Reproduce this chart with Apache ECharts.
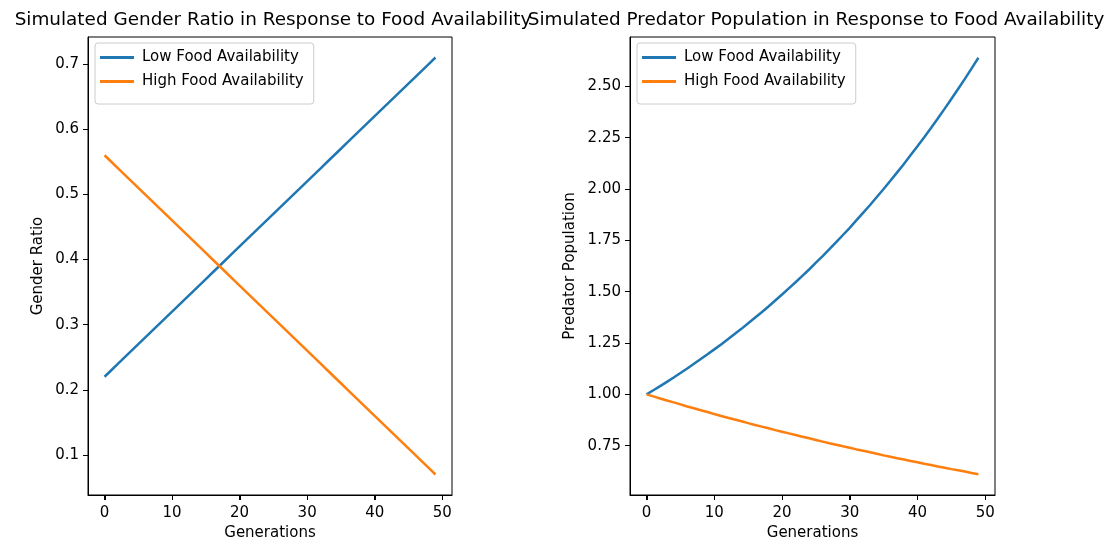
<!DOCTYPE html>
<html>
<head>
<meta charset="utf-8">
<script src="https://cdn.jsdelivr.net/npm/echarts@6/dist/echarts.min.js"></script>
<style>
  html, body { margin: 0; padding: 0; background: #fff; }
  #chart { width: 1107px; height: 542px; }
</style>
</head>
<body>
<div id="chart"></div>
<script>
// generations 0..49
var generations = [0,1,2,3,4,5,6,7,8,9,10,11,12,13,14,15,16,17,18,19,20,21,22,23,24,25,26,27,28,29,30,31,32,33,34,35,36,37,38,39,40,41,42,43,44,45,46,47,48,49];

// gender ratio
var ratioLow = [0.22,0.23,0.24,0.25,0.26,0.27,0.28,0.29,0.30,0.31,0.32,0.33,0.34,0.35,0.36,0.37,0.38,0.39,0.40,0.41,0.42,0.43,0.44,0.45,0.46,0.47,0.48,0.49,0.50,0.51,0.52,0.53,0.54,0.55,0.56,0.57,0.58,0.59,0.60,0.61,0.62,0.63,0.64,0.65,0.66,0.67,0.68,0.69,0.70,0.71];
var ratioHigh = [0.56,0.55,0.54,0.53,0.52,0.51,0.50,0.49,0.48,0.47,0.46,0.45,0.44,0.43,0.42,0.41,0.40,0.39,0.38,0.37,0.36,0.35,0.34,0.33,0.32,0.31,0.30,0.29,0.28,0.27,0.26,0.25,0.24,0.23,0.22,0.21,0.20,0.19,0.18,0.17,0.16,0.15,0.14,0.13,0.12,0.11,0.10,0.09,0.08,0.07];

// predator population
var predLow = [1.000,1.020,1.040,1.061,1.082,1.104,1.126,1.149,1.172,1.195,1.219,1.243,1.268,1.294,1.319,1.346,1.373,1.400,1.428,1.457,1.486,1.516,1.546,1.577,1.608,1.641,1.673,1.707,1.741,1.776,1.811,1.848,1.885,1.922,1.961,2.000,2.040,2.081,2.122,2.165,2.208,2.252,2.297,2.343,2.390,2.438,2.487,2.536,2.587,2.639];
var predHigh = [1.000,0.990,0.980,0.970,0.961,0.951,0.941,0.932,0.923,0.914,0.904,0.895,0.886,0.878,0.869,0.860,0.851,0.843,0.835,0.826,0.818,0.810,0.802,0.794,0.786,0.778,0.770,0.762,0.755,0.747,0.740,0.732,0.725,0.718,0.711,0.703,0.696,0.689,0.683,0.676,0.669,0.662,0.656,0.649,0.643,0.636,0.630,0.624,0.617,0.611];

var xTicks = [0, 10, 20, 30, 40, 50];
var ratioTicks = [0.1, 0.2, 0.3, 0.4, 0.5, 0.6, 0.7];
var predTicks = [0.75, 1.00, 1.25, 1.50, 1.75, 2.00, 2.25, 2.50];

var lowName = 'Low Food Availability';
var highName = 'High Food Availability';
var blue = '#1f77b4';
var orange = '#ff7f0e';
var font = 'DejaVu Sans';

var yMins = [0.0385, 0.510];
var yMaxs = [0.7415, 2.740];

function pairs(ys) {
    return generations.map(function (g, i) { return [g, ys[i]]; });
}

function xAx(idx) {
    return {
        type: 'value', gridIndex: idx, position: 'bottom',
        min: -2.45, max: 51.45,
        name: 'Generations', nameLocation: 'middle', nameGap: 30,
        nameTextStyle: { color: '#000', fontFamily: font, fontSize: 15 },
        splitLine: { show: false },
        axisLine: { show: true, onZero: false, lineStyle: { color: '#000', width: 1 } },
        axisTick: { show: true, length: 5, customValues: xTicks, lineStyle: { color: '#000', width: 1 } },
        axisLabel: { customValues: xTicks, margin: 11, color: '#000', fontFamily: font, fontSize: 15 }
    };
}

function yAx(idx, name, ticks, digits, gap) {
    return {
        type: 'value', gridIndex: idx,
        min: yMins[idx], max: yMaxs[idx],
        name: name, nameLocation: 'middle', nameGap: gap,
        nameTextStyle: { color: '#000', fontFamily: font, fontSize: 15 },
        splitLine: { show: false },
        axisLine: { show: true, onZero: false, lineStyle: { color: '#000', width: 1 } },
        axisTick: { show: true, length: 5, inside: false, customValues: ticks, lineStyle: { color: '#000', width: 1 } },
        axisLabel: {
            customValues: ticks, margin: 9, color: '#000', fontFamily: font, fontSize: 15,
            formatter: function (v) { return v.toFixed(digits); }
        }
    };
}

function lineSeries(name, idx, ys, color) {
    return {
        name: name, type: 'line', xAxisIndex: idx, yAxisIndex: idx,
        data: pairs(ys), showSymbol: false, symbol: 'none',
        lineStyle: { color: color, width: 2.5 }, itemStyle: { color: color },
        animation: false, silent: true
    };
}

function legendAt(left) {
    return {
        left: left, top: 43, orient: 'vertical',
        data: [lowName, highName],
        icon: 'rect', itemWidth: 34, itemHeight: 3, itemGap: 9,
        backgroundColor: '#fff', borderColor: '#cccccc', borderWidth: 1, borderRadius: 3,
        padding: [7, 10, 15, 5],
        textStyle: { color: '#000', fontFamily: font, fontSize: 15, padding: [0, 0, 0, 3] },
        selectedMode: false
    };
}

var myChart = echarts.init(document.getElementById('chart'));
var option = {
    backgroundColor: '#fff',
    animation: false,
    title: [
        { text: 'Simulated Gender Ratio in Response to Food Availability', left: 268, top: 6, textAlign: 'center',
          textStyle: { color: '#000', fontFamily: font, fontSize: 18.4, fontWeight: 'normal' } },
        { text: 'Simulated Predator Population in Response to Food Availability', left: 811, top: 6, textAlign: 'center',
          textStyle: { color: '#000', fontFamily: font, fontSize: 18.4, fontWeight: 'normal' } }
    ],
    legend: [legendAt(95), legendAt(637)],
    grid: [
        { left: 88, right: 655, top: 37, bottom: 47, outerBoundsMode: 'none', containLabel: false,
          show: true, borderColor: '#000', borderWidth: 1, backgroundColor: 'transparent' },
        { left: 630, right: 112, top: 37, bottom: 47, outerBoundsMode: 'none', containLabel: false,
          show: true, borderColor: '#000', borderWidth: 1, backgroundColor: 'transparent' }
    ],
    xAxis: [xAx(0), xAx(1)],
    yAxis: [
        yAx(0, 'Gender Ratio', ratioTicks, 1, 42),
        yAx(1, 'Predator Population', predTicks, 2, 52)
    ],
    series: [
        lineSeries(lowName, 0, ratioLow, blue),
        lineSeries(highName, 0, ratioHigh, orange),
        lineSeries(lowName, 1, predLow, blue),
        lineSeries(highName, 1, predHigh, orange)
    ]
};
myChart.setOption(option);

// x tick marks placed through the axis scale, on their own layer on top
var tickMarks = [];
[0, 1].forEach(function (gi) {
    xTicks.forEach(function (v) {
        var p = myChart.convertToPixel({ xAxisIndex: gi, yAxisIndex: gi }, [v, yMins[gi]]);
        var x = Math.round(p[0]) + 0.5;
        var y = Math.round(p[1]);
        tickMarks.push({
            type: 'line', silent: true, zlevel: 1, z: 100,
            shape: { x1: x, y1: y, x2: x, y2: y + 5 },
            style: { stroke: '#000', lineWidth: 1 }
        });
    });
});
myChart.setOption({ graphic: { elements: tickMarks } });

window.addEventListener('resize', function () { myChart.resize(); });
</script>
</body>
</html>
